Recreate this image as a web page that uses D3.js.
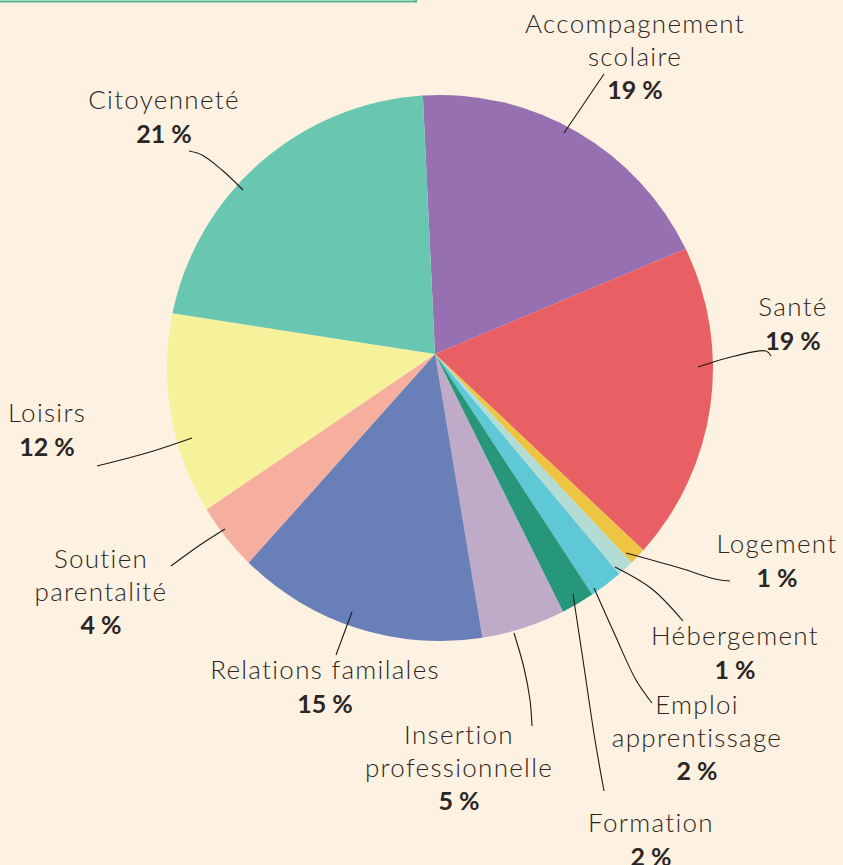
<!DOCTYPE html>
<html>
<head>
<meta charset="utf-8">
<script src="https://cdn.jsdelivr.net/npm/d3@7"></script>
<style>
  html, body { margin: 0; padding: 0; background: #fdf1e1; overflow: hidden; }
  text { font-family: "Lato", "Open Sans", sans-serif; fill: #2b2624; }
</style>
</head>
<body>
<div id="chart"></div>
<script>
/* =========================
   DONNÉES
   ========================= */

const categories = [
  "Accompagnement scolaire", "Santé", "Logement", "Hébergement",
  "Emploi apprentissage", "Formation", "Insertion professionnelle",
  "Relations familales", "Soutien parentalité", "Loisirs", "Citoyenneté"
];
const values = [19, 19, 1, 1, 2, 2, 5, 15, 4, 12, 21];
const labelLines = [
  ["Accompagnement", "scolaire"], ["Santé"], ["Logement"], ["Hébergement"],
  ["Emploi", "apprentissage"], ["Formation"], ["Insertion", "professionnelle"],
  ["Relations familales"], ["Soutien", "parentalité"], ["Loisirs"], ["Citoyenneté"]
];

/* =========================
   CONFIGURATION
   ========================= */

const WIDTH = 843;
const HEIGHT = 865;
const CX = 440, CY = 368, R = 273;   // cercle
const APEX = [435, 354];             // sommet des parts (légèrement décalé)
const START = -3.6 * Math.PI / 180;
const LINE_H = 32.5;

const colors = ["#9670b0", "#e86064", "#eec443", "#b3ddd4", "#5ec8d6", "#26977a",
                "#bfaac8", "#687fb8", "#f6af9e", "#f5f29b", "#68c6b1"];

// position des étiquettes : centre x, ligne de base de la première ligne
const labelPos = [
  [635, 33], [793, 316], [777, 553], [735, 645], [697, 714], [651, 832],
  [459, 744], [325, 679], [101, 568], [47, 422], [164, 109]
];

// traits de rappel
const leaders = [
  [[564, 133], [604, 74]],
  [[698, 367], [735, 356], [766, 351], [771, 356]],
  [[626, 553], [680, 568], [715, 579], [730, 581]],
  [[615, 567], [652, 589], [683, 621]],
  [[594, 588], [615, 635], [636, 680], [652, 703]],
  [[573, 594], [583, 660], [595, 740], [604, 791]],
  [[514, 633], [524, 668], [530, 700], [532, 726]],
  [[352, 612], [336, 655]],
  [[171, 566], [200, 545], [225, 529]],
  [[97, 466], [150, 452], [192, 438]],
  [[189, 151], [202, 155], [222, 170], [243, 190]]
];

/* =========================
   SVG
   ========================= */

const svg = d3.select("#chart")
  .append("svg")
  .attr("width", WIDTH)
  .attr("height", HEIGHT);

svg.append("rect")
  .attr("width", WIDTH)
  .attr("height", HEIGHT)
  .attr("fill", "#fdf1e1");

// bord du cadre du haut
svg.append("rect")
  .attr("x", -5).attr("y", -30)
  .attr("width", 421).attr("height", 31.5)
  .attr("fill", "none")
  .attr("stroke", "#4db89a")
  .attr("stroke-width", 2);

/* =========================
   CAMEMBERT
   ========================= */

const pie = d3.pie()
  .sort(null)
  .value(d => d)
  .startAngle(START)
  .endAngle(START + 2 * Math.PI);

const arcs = pie(values);
const onCircle = a => [CX + R * Math.sin(a), CY - R * Math.cos(a)];

function slicePath(d) {
  const p = d3.path();
  const [x0, y0] = onCircle(d.startAngle);
  p.moveTo(APEX[0], APEX[1]);
  p.lineTo(x0, y0);
  p.arc(CX, CY, R, d.startAngle - Math.PI / 2, d.endAngle - Math.PI / 2);
  p.closePath();
  return p.toString();
}

svg.append("g")
  .selectAll("path")
  .data(arcs)
  .enter()
  .append("path")
  .attr("d", slicePath)
  .attr("fill", (d, i) => colors[i]);

/* =========================
   TRAITS & ÉTIQUETTES
   ========================= */

const line = d3.line().curve(d3.curveCatmullRom);

svg.append("g")
  .selectAll("path")
  .data(leaders)
  .enter()
  .append("path")
  .attr("d", line)
  .attr("fill", "none")
  .attr("stroke", "#1e1a18")
  .attr("stroke-width", 1.1);

const gLabels = svg.append("g");

categories.forEach((c, i) => {
  const [x, y] = labelPos[i];
  const t = gLabels.append("text")
    .attr("x", x)
    .attr("y", y)
    .attr("text-anchor", "middle")
    .style("font-size", "26px");
  labelLines[i].forEach((l, j) => {
    t.append("tspan")
      .attr("x", x)
      .attr("dy", j === 0 ? 0 : LINE_H)
      .style("font-weight", 300)
      .style("letter-spacing", "1.3px")
      .text(l);
  });
  t.append("tspan")
    .attr("x", x)
    .attr("dy", LINE_H + 1)
    .style("font-weight", 700)
    .style("font-size", "25px")
    .text(values[i] + " %");
});
</script>
</body>
</html>
